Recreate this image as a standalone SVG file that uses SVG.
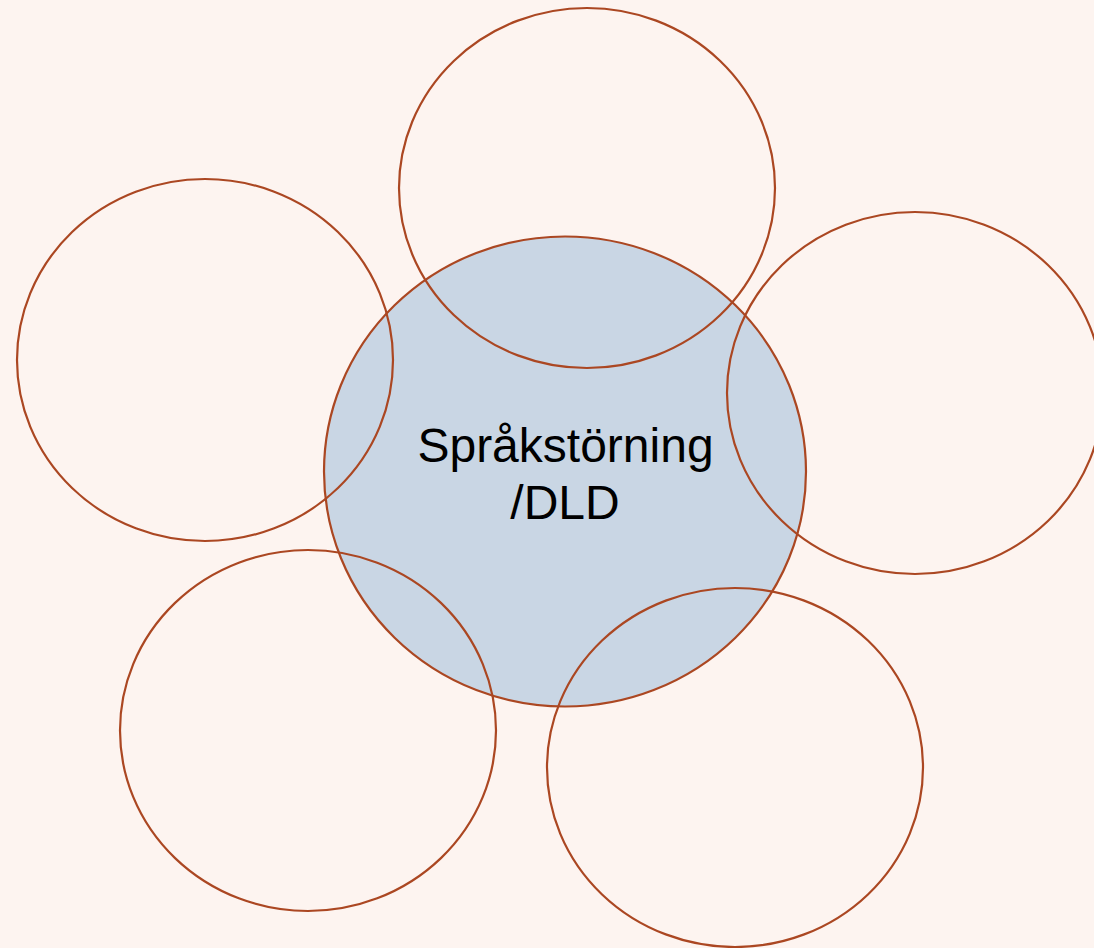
<svg xmlns="http://www.w3.org/2000/svg" width="1094" height="948" viewBox="0 0 1094 948">
<style>
.o{fill:none;stroke:#ab4722;stroke-width:2.2}
.c{fill:#c9d6e4;stroke:#ab4722;stroke-width:2.2}
.t{font-family:"Liberation Sans",Arial,sans-serif;font-size:48px;fill:#000;text-anchor:middle}
</style>
<rect width="1094" height="948" fill="#fdf4f0"/>
<g id="center"><ellipse class="c" cx="565" cy="471.5" rx="241" ry="235"/>
<text class="t" x="565.5" y="462">Språkstörning</text><text class="t" x="565" y="519">/DLD</text></g>
<g id="top"><ellipse class="o" cx="587" cy="188" rx="188" ry="180"/></g>
<g id="left"><ellipse class="o" cx="205" cy="360" rx="188" ry="181"/></g>
<g id="right"><ellipse class="o" cx="915" cy="393" rx="188" ry="181"/></g>
<g id="bottomleft"><ellipse class="o" cx="308" cy="730.5" rx="188" ry="180.5"/></g>
<g id="bottomright"><ellipse class="o" cx="735" cy="767.5" rx="188" ry="179.5"/></g>
<g id="connectors"/>
</svg>
